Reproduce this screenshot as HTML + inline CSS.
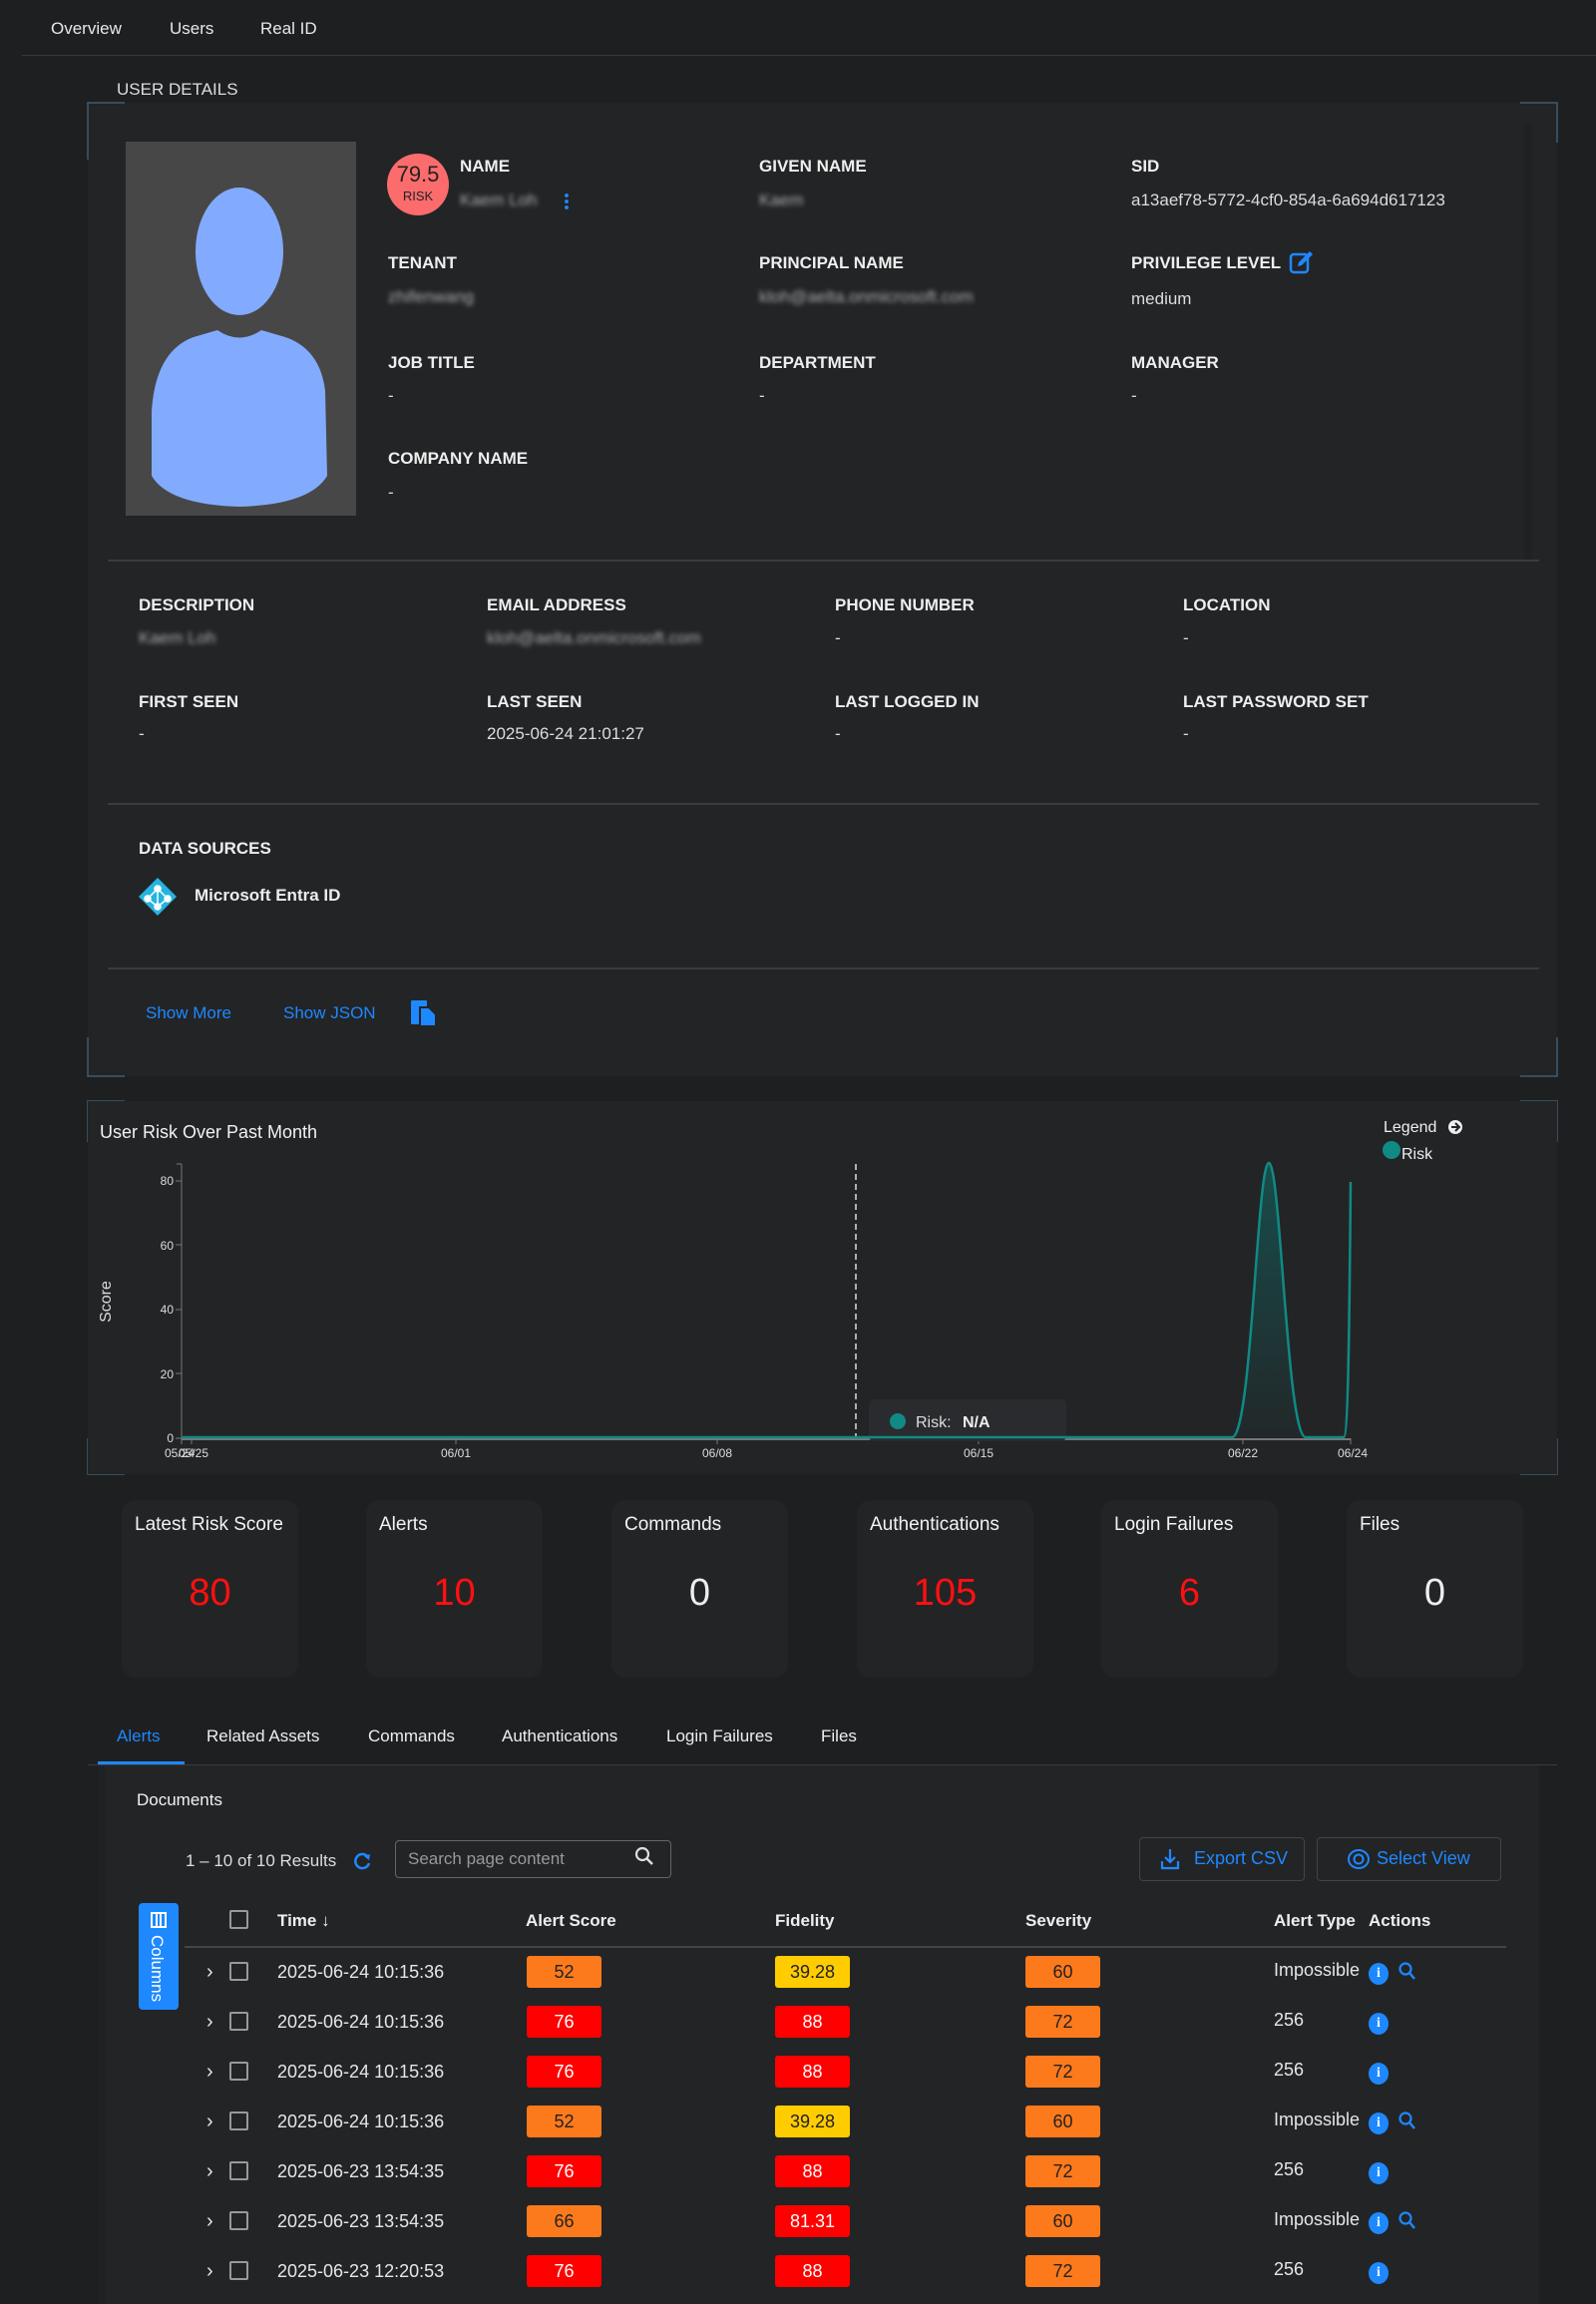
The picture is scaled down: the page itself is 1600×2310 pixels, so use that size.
<!DOCTYPE html>
<html><head><meta charset="utf-8">
<style>
*{margin:0;padding:0;box-sizing:border-box}
body{width:1600px;height:2300px;background:#1e1f21;font-family:"Liberation Sans",Arial,sans-serif;color:#e8e8e8;position:relative;overflow:hidden}
.a{position:absolute;white-space:nowrap}
.lb{font-weight:bold;font-size:17px;line-height:20px;color:#eee}
.vl{font-size:17px;line-height:20px;color:#ddd}
.bl{filter:blur(2.5px);color:#aaa}
.hr{position:absolute;height:2px;background:#3a3b3e}
.card{position:absolute;background:#232426}
.stat{position:absolute;background:#232426;border-radius:14px;width:177px;height:178px;top:1504px}
.stat .t{position:absolute;left:13px;top:14px;font-size:19px;color:#f2f2f2}
.stat .v{position:absolute;left:0;right:0;top:72px;text-align:center;font-size:38px;color:#ff1010}
.tab{position:absolute;top:1731px;font-size:17px;color:#eee}
.bd{position:absolute;width:75px;height:32px;border-radius:3px;text-align:center;line-height:32px;font-size:18px}
.o{background:#fd7a1c;color:#222}.r{background:#ff0000;color:#fff}.y{background:#ffcc00;color:#222}
.cb{position:absolute;width:19px;height:19px;border:2px solid #999;border-radius:2px}
.td{position:absolute;font-size:18px;color:#e6e6e6}
.info{position:absolute;width:20px;height:22px;border-radius:50%;background:#1e88ff;color:#fff;font-size:14px;font-weight:bold;text-align:center;line-height:22px;font-family:"Liberation Serif",serif}
</style></head><body>
<!-- nav -->
<div class="a" style="left:51px;top:19px;font-size:17px">Overview</div>
<div class="a" style="left:170px;top:19px;font-size:17px">Users</div>
<div class="a" style="left:261px;top:19px;font-size:17px">Real ID</div>
<div style="position:absolute;left:22px;right:0;top:55px;height:1px;background:#36373a"></div>
<div class="a" style="left:117px;top:80px;font-size:17px;color:#ddd">USER DETAILS</div>

<!-- user details card -->
<div class="card" style="left:88px;top:103px;width:1473px;height:976px"></div>
<div style="position:absolute;left:1528px;top:124px;width:8px;height:438px;background:#202123"></div>
<div style="position:absolute;left:126px;top:142px;width:231px;height:375px;background:#474747"></div>
<svg class="a" style="left:126px;top:142px" width="231" height="375" viewBox="0 0 231 375">
<ellipse cx="114" cy="110" rx="44" ry="64" fill="#82abff"/>
<path d="M92 189 Q114 204 136 189 L160 196 Q195 208 200 250 L202 335 Q185 364 114 366 Q43 364 26 335 L26 270 Q30 210 68 196 Z" fill="#82abff"/>
</svg>
<div class="a" style="left:388px;top:154px;width:62px;height:62px;border-radius:50%;background:#fc6c6c;color:#222;text-align:center">
<div style="font-size:22px;margin-top:10px;line-height:22px">79.5</div><div style="font-size:13px;line-height:16px;margin-top:3px">RISK</div></div>
<div class="a lb" style="left:461px;top:157px">NAME</div>
<div class="a vl bl" style="left:461px;top:191px">Kaem Loh</div>
<div class="a" style="left:566px;top:193px;width:4px;height:18px;background:radial-gradient(circle,#1e88ff 1.8px,transparent 2px) 0 0/4px 6px"></div>
<div class="a lb" style="left:761px;top:157px">GIVEN NAME</div>
<div class="a vl bl" style="left:761px;top:191px">Kaem</div>
<div class="a lb" style="left:1134px;top:157px">SID</div>
<div class="a vl" style="left:1134px;top:191px">a13aef78-5772-4cf0-854a-6a694d617123</div>
<div class="a lb" style="left:389px;top:254px">TENANT</div>
<div class="a vl bl" style="left:389px;top:288px">zhifenwang</div>
<div class="a lb" style="left:761px;top:254px">PRINCIPAL NAME</div>
<div class="a vl bl" style="left:761px;top:288px">kloh@aelta.onmicrosoft.com</div>
<div class="a lb" style="left:1134px;top:254px">PRIVILEGE LEVEL</div>
<svg class="a" style="left:1292px;top:250px" width="26" height="26" viewBox="0 0 26 26"><rect x="2" y="5" width="17" height="18" rx="3" fill="none" stroke="#1e88ff" stroke-width="2.5"/><path d="M9 17 L10 13 L21 2 L24 5 L13 16 Z" fill="#1e88ff"/></svg>
<div class="a vl" style="left:1134px;top:290px">medium</div>
<div class="a lb" style="left:389px;top:354px">JOB TITLE</div>
<div class="a vl" style="left:389px;top:387px">-</div>
<div class="a lb" style="left:761px;top:354px">DEPARTMENT</div>
<div class="a vl" style="left:761px;top:387px">-</div>
<div class="a lb" style="left:1134px;top:354px">MANAGER</div>
<div class="a vl" style="left:1134px;top:387px">-</div>
<div class="a lb" style="left:389px;top:450px">COMPANY NAME</div>
<div class="a vl" style="left:389px;top:484px">-</div>
<div class="hr" style="left:108px;width:1435px;top:561px"></div>

<div class="a lb" style="left:139px;top:597px">DESCRIPTION</div>
<div class="a vl bl" style="left:139px;top:630px">Kaem Loh</div>
<div class="a lb" style="left:488px;top:597px">EMAIL ADDRESS</div>
<div class="a vl bl" style="left:488px;top:630px">kloh@aelta.onmicrosoft.com</div>
<div class="a lb" style="left:837px;top:597px">PHONE NUMBER</div>
<div class="a vl" style="left:837px;top:630px">-</div>
<div class="a lb" style="left:1186px;top:597px">LOCATION</div>
<div class="a vl" style="left:1186px;top:630px">-</div>
<div class="a lb" style="left:139px;top:694px">FIRST SEEN</div>
<div class="a vl" style="left:139px;top:726px">-</div>
<div class="a lb" style="left:488px;top:694px">LAST SEEN</div>
<div class="a vl" style="left:488px;top:726px">2025-06-24 21:01:27</div>
<div class="a lb" style="left:837px;top:694px">LAST LOGGED IN</div>
<div class="a vl" style="left:837px;top:726px">-</div>
<div class="a lb" style="left:1186px;top:694px">LAST PASSWORD SET</div>
<div class="a vl" style="left:1186px;top:726px">-</div>
<div class="hr" style="left:108px;width:1435px;top:805px"></div>
<div class="a lb" style="left:139px;top:841px">DATA SOURCES</div>
<svg class="a" style="left:139px;top:880px" width="38" height="38" viewBox="0 0 38 38"><path d="M19 0 L38 19 L19 38 L0 19 Z" fill="#25b4e0"/><g stroke="#fff" stroke-width="1.5" fill="#fff"><line x1="19" y1="11" x2="9" y2="21"/><line x1="19" y1="11" x2="29" y2="21"/><line x1="19" y1="11" x2="19" y2="29"/><line x1="9" y1="21" x2="19" y2="29"/><line x1="29" y1="21" x2="19" y2="29"/><circle cx="19" cy="11" r="3"/><circle cx="9" cy="21" r="3"/><circle cx="29" cy="21" r="3"/><circle cx="19" cy="29" r="3"/></g></svg>
<div class="a lb" style="left:195px;top:888px">Microsoft Entra ID</div>
<div class="hr" style="left:108px;width:1435px;top:970px"></div>
<div class="a" style="left:146px;top:1006px;font-size:17px;color:#1e88ff">Show More</div>
<div class="a" style="left:284px;top:1006px;font-size:17px;color:#1e88ff">Show JSON</div>
<svg class="a" style="left:411px;top:1002px" width="28" height="28" viewBox="0 0 28 28"><rect x="1" y="1" width="16" height="24" rx="1" fill="#1e88ff"/><path d="M10 8 H19 L26 15 V27 H10 Z" fill="#1e88ff" stroke="#232426" stroke-width="2"/></svg>

<!-- brackets -->
<svg class="a" style="left:0;top:0" width="1600" height="1500">
<g stroke="#3f5d70" stroke-width="1.5" fill="none">
<path d="M88 160 V103 H125"/><path d="M1524 103 H1561 V143"/><path d="M88 1040 V1079 H125"/><path d="M1524 1079 H1561 V1040"/>
<path d="M88 1145 V1104 H125"/><path d="M1524 1104 H1561 V1145"/><path d="M88 1442 V1478 H125"/><path d="M1524 1478 H1561 V1442"/>
</g></svg>

<!-- chart card -->
<div class="card" style="left:88px;top:1104px;width:1473px;height:374px"></div>
<div class="a" style="left:100px;top:1125px;font-size:18px;color:#f2f2f2">User Risk Over Past Month</div>
<svg class="a" style="left:0;top:1100px" width="1600" height="400" viewBox="0 1100 1600 400" font-family="Liberation Sans, Arial, sans-serif">
<defs><linearGradient id="g" x1="0" y1="0" x2="0" y2="1"><stop offset="0" stop-color="#0f6e6a" stop-opacity="0.55"/><stop offset="1" stop-color="#0f6e6a" stop-opacity="0.05"/></linearGradient></defs>
<g fill="#ddd" font-size="12" text-anchor="end">
<text x="174" y="1446">0</text><text x="174" y="1382">20</text><text x="174" y="1317">40</text><text x="174" y="1253">60</text><text x="174" y="1188">80</text></g>
<g stroke="#777" stroke-width="1"><line x1="182" y1="1167" x2="182" y2="1442"/><line x1="177" y1="1167" x2="182" y2="1167"/>
<line x1="176" y1="1442" x2="182" y2="1442"/><line x1="176" y1="1377" x2="182" y2="1377"/><line x1="176" y1="1313" x2="182" y2="1313"/><line x1="176" y1="1248" x2="182" y2="1248"/><line x1="176" y1="1184" x2="182" y2="1184"/>
<line x1="182" y1="1442" x2="182" y2="1448"/><line x1="192" y1="1442" x2="192" y2="1448"/><line x1="457" y1="1442" x2="457" y2="1448"/><line x1="719" y1="1442" x2="719" y2="1448"/><line x1="981" y1="1442" x2="981" y2="1448"/><line x1="1246" y1="1442" x2="1246" y2="1448"/><line x1="1354" y1="1442" x2="1354" y2="1448"/></g>
<line x1="182" y1="1443" x2="1354" y2="1443" stroke="#777" stroke-width="2"/>
<text x="111" y="1305" fill="#ddd" font-size="16" transform="rotate(-90 111 1305)" text-anchor="middle">Score</text>
<g fill="#ddd" font-size="12" text-anchor="middle"><text x="180" y="1461">05/24</text><text x="194" y="1461">05/25</text><text x="457" y="1461">06/01</text><text x="719" y="1461">06/08</text><text x="981" y="1461">06/15</text><text x="1246" y="1461">06/22</text><text x="1356" y="1461">06/24</text></g>
<line x1="858" y1="1167" x2="858" y2="1442" stroke="#ddd" stroke-width="1.5" stroke-dasharray="6,4"/>
<rect x="871" y="1403" width="198" height="42" rx="5" fill="#2a2b2f"/>
<circle cx="900" cy="1425" r="8" fill="#0f8a85"/>
<text x="918" y="1431" fill="#ddd" font-size="16">Risk:</text><text x="965" y="1431" fill="#eee" font-size="16" font-weight="bold">N/A</text>
<path d="M1235 1441 C1255 1441 1260 1166 1272 1166 C1284 1166 1290 1441 1309 1441 Z" fill="url(#g)"/>
<path d="M182 1441 L1235 1441 C1255 1441 1260 1166 1272 1166 C1284 1166 1290 1441 1309 1441 L1347 1441 C1352 1441 1353 1300 1354 1185" fill="none" stroke="#0f8a85" stroke-width="2.5"/>
<text x="1387" y="1135" fill="#eee" font-size="16">Legend</text>
<circle cx="1459" cy="1130" r="7" fill="#eee"/><path d="M1455 1130 H1462 M1459 1126 L1463 1130 L1459 1134" stroke="#232426" stroke-width="2" fill="none"/>
<circle cx="1395" cy="1153" r="9" fill="#0f8a85"/>
<text x="1405" y="1162" fill="#eee" font-size="16">Risk</text>
</svg>

<!-- stats -->
<div class="stat" style="left:122px"><div class="t">Latest Risk Score</div><div class="v">80</div></div>
<div class="stat" style="left:367px"><div class="t">Alerts</div><div class="v">10</div></div>
<div class="stat" style="left:613px"><div class="t">Commands</div><div class="v" style="color:#eee">0</div></div>
<div class="stat" style="left:859px"><div class="t">Authentications</div><div class="v">105</div></div>
<div class="stat" style="left:1104px"><div class="t">Login Failures</div><div class="v">6</div></div>
<div class="stat" style="left:1350px"><div class="t">Files</div><div class="v" style="color:#eee">0</div></div>

<!-- tabs -->
<div class="tab" style="left:117px;color:#1e88ff">Alerts</div>
<div class="tab" style="left:207px">Related Assets</div>
<div class="tab" style="left:369px">Commands</div>
<div class="tab" style="left:503px">Authentications</div>
<div class="tab" style="left:668px">Login Failures</div>
<div class="tab" style="left:823px">Files</div>
<div style="position:absolute;left:88px;width:1473px;top:1769px;height:1px;background:#3a3b3e"></div>
<div style="position:absolute;left:98px;width:87px;top:1766px;height:3px;background:#1e88ff"></div>
<div class="card" style="left:98px;top:1770px;width:1445px;height:540px;border-left:8px solid #202123"></div>
<div class="a" style="left:137px;top:1795px;font-size:17px;color:#f2f2f2">Documents</div>
<div class="a" style="left:186px;top:1856px;font-size:17px;color:#ddd">1 – 10 of 10 Results</div>
<svg class="a" style="left:354px;top:1856px" width="20" height="20" viewBox="0 0 20 20"><path d="M15 6 A7 7 0 1 0 16 12" fill="none" stroke="#1e88ff" stroke-width="2.5"/><path d="M11 5 L17 3 L16 9 Z" fill="#1e88ff"/></svg>
<div class="a" style="left:396px;top:1845px;width:277px;height:38px;border:1.5px solid #666;border-radius:4px"></div>
<div class="a" style="left:409px;top:1854px;font-size:17px;color:#999">Search page content</div>
<svg class="a" style="left:636px;top:1851px" width="20" height="20" viewBox="0 0 20 20"><circle cx="8" cy="8" r="6" fill="none" stroke="#ddd" stroke-width="2.2"/><line x1="12.5" y1="12.5" x2="18" y2="18" stroke="#ddd" stroke-width="2.5"/></svg>
<div class="a" style="left:1142px;top:1842px;width:166px;height:44px;border:1.5px solid #444;border-radius:4px"></div>
<svg class="a" style="left:1163px;top:1852px" width="20" height="24" viewBox="0 0 20 24"><path d="M10 2 V14 M5 10 L10 15 L15 10 M2 14 V21 H18 V14" fill="none" stroke="#1e88ff" stroke-width="2.2"/></svg>
<div class="a" style="left:1197px;top:1853px;font-size:18px;color:#1e88ff">Export CSV</div>
<div class="a" style="left:1320px;top:1842px;width:185px;height:44px;border:1.5px solid #444;border-radius:4px"></div>
<svg class="a" style="left:1350px;top:1853px" width="24" height="22" viewBox="0 0 24 22"><ellipse cx="12" cy="11" rx="10" ry="9" fill="none" stroke="#1e88ff" stroke-width="2"/><circle cx="12" cy="11" r="4.5" fill="none" stroke="#1e88ff" stroke-width="2"/></svg>
<div class="a" style="left:1380px;top:1853px;font-size:18px;color:#1e88ff">Select View</div>

<div class="a" style="left:139px;top:1908px;width:40px;height:107px;background:#1e88ff;border-radius:4px"></div>
<svg class="a" style="left:150px;top:1916px" width="18" height="18" viewBox="0 0 18 18"><rect x="2" y="2" width="14" height="14" fill="none" stroke="#fff" stroke-width="2"/><line x1="7" y1="2" x2="7" y2="16" stroke="#fff" stroke-width="2"/><line x1="11" y1="2" x2="11" y2="16" stroke="#fff" stroke-width="2"/></svg>
<div class="a" style="left:147px;top:1940px;font-size:17px;color:#fff;writing-mode:vertical-rl">Columns</div>

<div class="cb" style="left:230px;top:1915px"></div>
<div class="a lb" style="left:278px;top:1916px">Time ↓</div>
<div class="a lb" style="left:527px;top:1916px">Alert Score</div>
<div class="a lb" style="left:777px;top:1916px">Fidelity</div>
<div class="a lb" style="left:1028px;top:1916px">Severity</div>
<div class="a lb" style="left:1277px;top:1916px">Alert Type</div>
<div class="a lb" style="left:1372px;top:1916px">Actions</div>
<div style="position:absolute;left:185px;width:1325px;top:1951px;height:1.5px;background:#444"></div>

<div id="rows"></div>
<script>
var d=[["2025-06-24 10:15:36","52","o","39.28","y","60","o","Impossible",1],
["2025-06-24 10:15:36","76","r","88","r","72","o","256",0],
["2025-06-24 10:15:36","76","r","88","r","72","o","256",0],
["2025-06-24 10:15:36","52","o","39.28","y","60","o","Impossible",1],
["2025-06-23 13:54:35","76","r","88","r","72","o","256",0],
["2025-06-23 13:54:35","66","o","81.31","r","60","o","Impossible",1],
["2025-06-23 12:20:53","76","r","88","r","72","o","256",0]];
var h="";
d.forEach(function(r,i){var c=1977+50*i;
h+='<div class="td" style="left:207px;top:'+(c-11)+'px;font-size:20px">&#x203A;</div>';
h+='<div class="cb" style="left:230px;top:'+(c-10)+'px"></div>';
h+='<div class="td" style="left:278px;top:'+(c-10)+'px">'+r[0]+'</div>';
h+='<div class="bd '+r[2]+'" style="left:528px;top:'+(c-16)+'px">'+r[1]+'</div>';
h+='<div class="bd '+r[4]+'" style="left:777px;top:'+(c-16)+'px">'+r[3]+'</div>';
h+='<div class="bd '+r[6]+'" style="left:1028px;top:'+(c-16)+'px">'+r[5]+'</div>';
h+='<div class="td" style="left:1277px;top:'+(c-12)+'px">'+r[7]+'</div>';
h+='<div class="info" style="left:1372px;top:'+(c-9)+'px">i</div>';
if(r[8])h+='<svg class="a" style="left:1402px;top:'+(c-10)+'px" width="18" height="20" viewBox="0 0 18 20"><circle cx="7" cy="7" r="5.5" fill="none" stroke="#1e88ff" stroke-width="2.2"/><line x1="11" y1="11" x2="16" y2="17" stroke="#1e88ff" stroke-width="2.5"/></svg>';
});
document.getElementById("rows").innerHTML=h;
</script>
</body></html>
